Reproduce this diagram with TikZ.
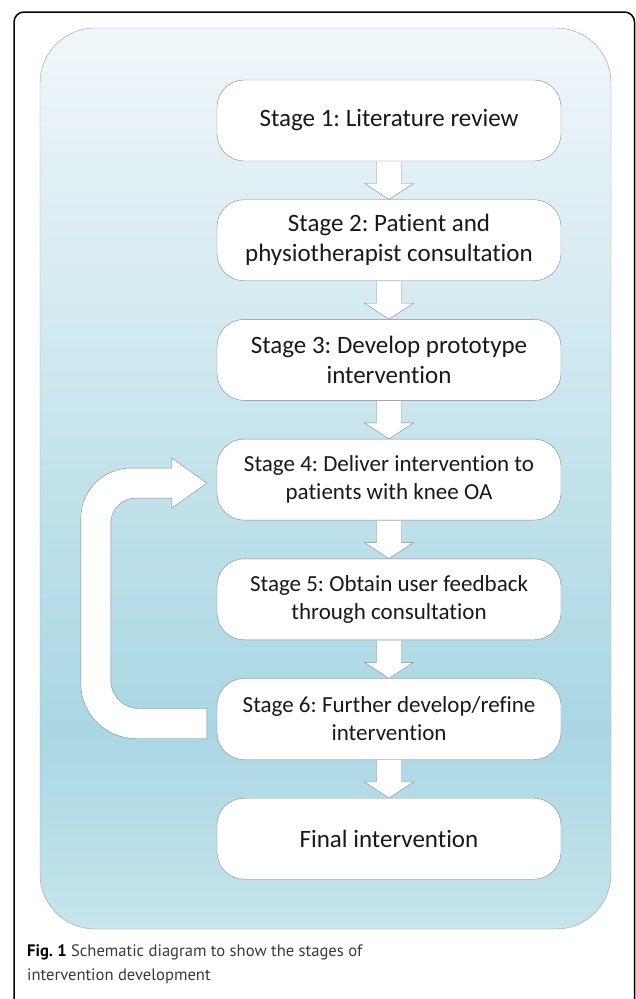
\documentclass[tikz,border=0pt]{standalone}
\usepackage{fontspec}
\setmainfont{Carlito}[Ligatures=NoCommon]
\newfontfamily\capfont{PT Sans}
\usetikzlibrary{calc}
\frenchspacing

\definecolor{paneltop}{HTML}{F0F7FA}
\definecolor{paneldark}{HTML}{A9D7E3}
\definecolor{panelbot}{HTML}{C6E5EC}
\definecolor{edgegray}{HTML}{858585}
\definecolor{captext}{HTML}{3A3A3A}
\pgfdeclareverticalshading{panelshade}{100bp}{color(0bp)=(panelbot); color(25bp)=(panelbot);
  color(36bp)=(paneldark); color(75bp)=(paneltop); color(100bp)=(paneltop)}

\begin{document}
\begin{tikzpicture}[x=1pt, y=-1pt,
    stagebox/.style={draw=edgegray, fill=white, rounded corners=27, minimum width=344,
      minimum height=81, align=center, inner sep=0, text=black!90,
      font=\fontsize{25}{30}\selectfont},
    smallbox/.style={stagebox, font=\fontsize{23}{28}\selectfont},
    downarrow/.style={draw=edgegray, fill=white, line join=miter},
    loopband/.style={draw=edgegray, fill=white}]
    \useasboundingbox (0,0) rectangle (636,999);

    % frame and panel
    \draw[black, line width=1.5, rounded corners=10] (14,999) -- (14,12) -- (634.5,12) -- (634.5,999);
    \shade[shading=panelshade, draw=edgegray!80, rounded corners=55] (40,28) rectangle (611,929);

    % stages
    \node[stagebox] (stage1) at (389,120.5) {Stage 1: Literature review};
    \node[stagebox] (stage2) at (389,240.2) {Stage 2: Patient and\\physiotherapist consultation};
    \node[stagebox] (stage3) at (389,359.9) {Stage 3: Develop prototype\\intervention};
    \node[smallbox] (stage4) at (389,479.6) {Stage 4: Deliver intervention to\\patients with knee OA};
    \node[smallbox] (stage5) at (389,599.3) {Stage 5: Obtain user feedback\\through consultation};
    \node[smallbox] (stage6) at (389,719.0) {Stage 6: Further develop/refine\\intervention};
    \node[stagebox] (stage7) at (389,838.7) {Final intervention};

    \foreach \a/\b in {stage1/stage2,stage2/stage3,stage3/stage4,stage4/stage5,stage5/stage6,stage6/stage7}
      \draw[downarrow] ($(\a.south)+(-12.5,0.5)$) -- ($(\b.north)+(-12.5,-16)$) -- ($(\b.north)+(-24.5,-16)$)
        -- (\b.north) -- ($(\b.north)+(24.5,-16)$) -- ($(\b.north)+(12.5,-16)$) -- ($(\a.south)+(12.5,0.5)$);

    % feedback loop
    \coordinate (loopend) at ($(stage6.west)+(-10,4.5)$);
    \coordinate (looptip) at ($(stage4.west)+(-10,3.5)$);
    \draw[loopband] ($(loopend)+(0,-15)$) -- ($(loopend)+(0,15)$) [rounded corners=55]
      -- ($(loopend)+(-126,15)$) [rounded corners=50] -- ($(looptip)+(-126,-15)$) [sharp corners]
      -- ($(looptip)+(-35,-15)$) -- ($(looptip)+(-35,-25)$) -- (looptip) -- ($(looptip)+(-35,25)$)
      -- ($(looptip)+(-35,15)$) [rounded corners=25] -- ($(looptip)+(-96,15)$) [rounded corners=28]
      -- ($(loopend)+(-96,-15)$) [sharp corners] -- cycle;

    % caption
    \node[anchor=north west, align=left, inner sep=0, text=captext, font=\capfont\fontsize{16.6}{24.5}\selectfont]
      (caption) at (27,944) {\textbf{\color{black}Fig. 1} Schematic diagram to show the stages of\\intervention development};
\end{tikzpicture}
\end{document}
